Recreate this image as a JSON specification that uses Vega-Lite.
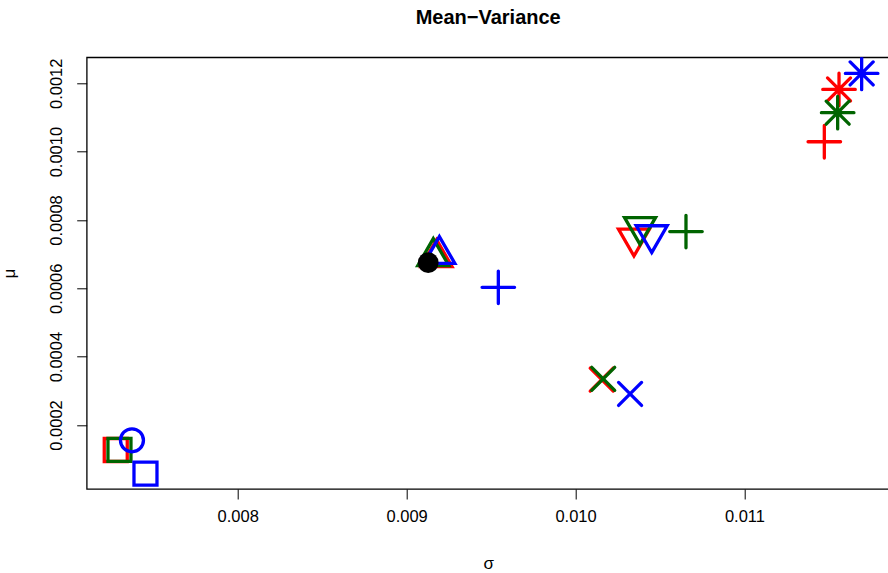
{
  "$schema": "https://vega.github.io/schema/vega-lite/v6.json",
  "description": "Mean-Variance scatter of portfolios",
  "autosize": "none",
  "padding": {"left": 86.7, "top": 57.3, "right": 0, "bottom": 84},
  "width": 803,
  "height": 431.7,
  "title": {
    "text": "Mean−Variance",
    "font": "Liberation Sans",
    "fontSize": 20,
    "fontWeight": "bold",
    "color": "black",
    "anchor": "middle",
    "frame": "group",
    "baseline": "bottom",
    "offset": 9
  },
  "data": {
    "values": [
      {"sigma": 0.007278, "mu": 0.0001268, "col": "red", "pch": "square"},
      {"sigma": 0.009177, "mu": 0.000690, "col": "red", "pch": "triup"},
      {"sigma": 0.010155, "mu": 0.000333, "col": "red", "pch": "cross"},
      {"sigma": 0.010346, "mu": 0.000747, "col": "red", "pch": "tridown"},
      {"sigma": 0.011473, "mu": 0.001029, "col": "red", "pch": "plus"},
      {"sigma": 0.011560, "mu": 0.001182, "col": "red", "pch": "asterisk"},
      {"sigma": 0.007300, "mu": 0.000127, "col": "green", "pch": "square"},
      {"sigma": 0.009158, "mu": 0.000693, "col": "green", "pch": "triup"},
      {"sigma": 0.010164, "mu": 0.000335, "col": "green", "pch": "cross"},
      {"sigma": 0.010382, "mu": 0.000781, "col": "green", "pch": "tridown"},
      {"sigma": 0.010654, "mu": 0.000766, "col": "green", "pch": "plus"},
      {"sigma": 0.011552, "mu": 0.001114, "col": "green", "pch": "asterisk"},
      {"sigma": 0.007454, "mu": 0.0000575, "col": "blue", "pch": "square"},
      {"sigma": 0.007374, "mu": 0.0001552, "col": "blue", "pch": "circle"},
      {"sigma": 0.009194, "mu": 0.000699, "col": "blue", "pch": "triup"},
      {"sigma": 0.009543, "mu": 0.000603, "col": "blue", "pch": "plus"},
      {"sigma": 0.010323, "mu": 0.000291, "col": "blue", "pch": "cross"},
      {"sigma": 0.010451, "mu": 0.000757, "col": "blue", "pch": "tridown"},
      {"sigma": 0.011694, "mu": 0.001229, "col": "blue", "pch": "asterisk"},
      {"sigma": 0.009128, "mu": 0.000675, "col": "black", "pch": "dot"}
    ]
  },
  "encoding": {
    "x": {
      "field": "sigma",
      "type": "quantitative",
      "scale": {"domain": [0.007106, 0.01186], "nice": false, "zero": false},
      "axis": {
        "title": "σ",
        "values": [0.008, 0.009, 0.010, 0.011],
        "format": ".3f",
        "grid": false,
        "domain": false,
        "tickSize": 10,
        "tickColor": "black",
        "labelFont": "Liberation Sans",
        "labelFontSize": 16.5,
        "labelColor": "black",
        "labelPadding": 10,
        "titleFont": "Liberation Sans",
        "titleFontSize": 17,
        "titleFontWeight": "normal",
        "titleColor": "black",
        "titlePadding": 30
      }
    },
    "y": {
      "field": "mu",
      "type": "quantitative",
      "scale": {"domain": [0.0000127, 0.0012761], "nice": false, "zero": false},
      "axis": {
        "title": "μ",
        "values": [0.0002, 0.0004, 0.0006, 0.0008, 0.0010, 0.0012],
        "format": ".4f",
        "grid": false,
        "domain": false,
        "tickSize": 10,
        "tickColor": "black",
        "labelAngle": -90,
        "labelAlign": "center",
        "labelBaseline": "bottom",
        "labelFont": "Liberation Sans",
        "labelFontSize": 16.5,
        "labelColor": "black",
        "labelPadding": 12,
        "titleFont": "Liberation Sans",
        "titleFontSize": 17,
        "titleFontWeight": "normal",
        "titleColor": "black",
        "titlePadding": 30
      }
    }
  },
  "layer": [
    {
      "transform": [{"filter": "datum.pch != 'dot'"}],
      "mark": {"type": "point", "clip": true, "filled": false, "size": 529, "strokeWidth": 3.3, "strokeCap": "round", "opacity": 1},
      "encoding": {
        "color": {
          "field": "col",
          "type": "nominal",
          "scale": {"domain": ["red", "green", "blue", "black"], "range": ["#FF0000", "#006400", "#0000FF", "#000000"]},
          "legend": null
        },
        "shape": {
          "field": "pch",
          "type": "nominal",
          "scale": {
            "domain": ["square", "circle", "triup", "plus", "cross", "tridown", "asterisk"],
            "range": [
              "M-1,-1H1V1H-1Z",
              "M1,0C1,0.5523,0.5523,1,0,1C-0.5523,1,-1,0.5523,-1,0C-1,-0.5523,-0.5523,-1,0,-1C0.5523,-1,1,-0.5523,1,0Z",
              "M0,-1.555L1.347,0.778L-1.347,0.778Z",
              "M-1.414,0H1.414M0,-1.414V1.414",
              "M-1,-1L1,1M-1,1L1,-1",
              "M0,1.555L1.347,-0.778L-1.347,-0.778Z",
              "M-1.414,0H1.414M0,-1.414V1.414M-1,-1L1,1M-1,1L1,-1"
            ]
          },
          "legend": null
        }
      }
    },
    {
      "transform": [{"filter": "datum.pch == 'dot'"}],
      "mark": {"type": "point", "clip": true, "shape": "circle", "filled": true, "size": 430, "color": "black", "opacity": 1},
      "encoding": {}
    }
  ],
  "config": {
    "view": {"stroke": "black", "strokeWidth": 1.3}
  }
}
